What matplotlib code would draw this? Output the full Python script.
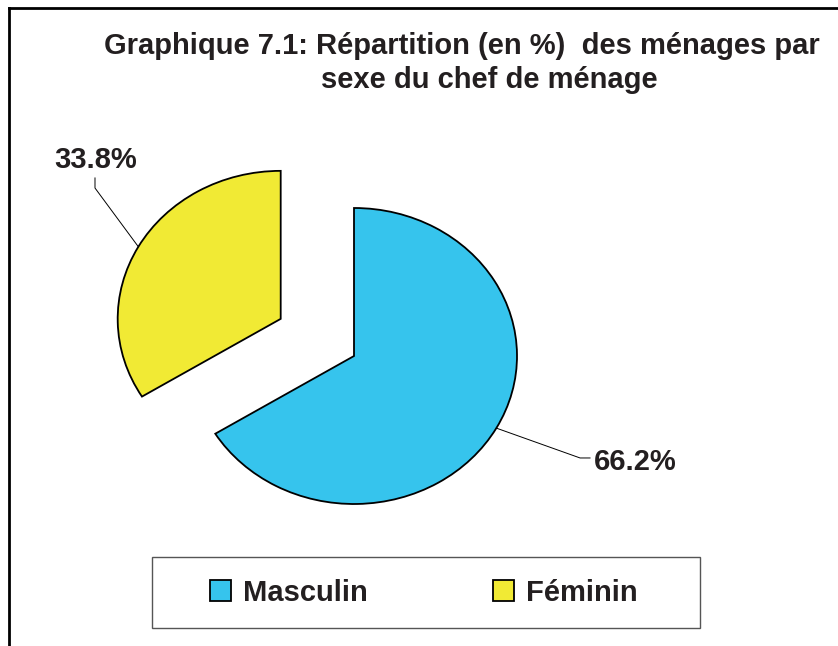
import matplotlib
matplotlib.use("Agg")
import matplotlib.pyplot as plt
from matplotlib.lines import Line2D
from matplotlib.patches import Rectangle
import numpy as np

# data
categories = ["Masculin", "Féminin"]
values = [66.2, 33.8]
labels = ["66.2%", "33.8%"]
colors = ["#36C4ED", "#F1EA34"]
title_lines = ["Graphique 7.1: Répartition (en %)  des ménages par",
               "sexe du chef de ménage"]

plt.rcParams['font.family'] = ['Liberation Sans', 'DejaVu Sans']
txt_color = "#231F20"
fs = 21

W, H = 838, 646
fig = plt.figure(figsize=(W / 100, H / 100), dpi=100)
fig.patch.set_facecolor("white")

# pie centre at (354, 356) px, radii 163 x 148 px
cx, cy, rx, ry = 354, 356, 163, 148
ax = fig.add_axes([0, 0, 1, 1])
wedges, _ = ax.pie(values, colors=colors, startangle=90, counterclock=False,
                   explode=[0, 0.515],
                   wedgeprops=dict(edgecolor="black", linewidth=1.3))
ax.set_aspect("auto")
ax.set_xlim(-cx / rx, (W - cx) / rx)
ax.set_ylim(-(H - cy) / ry, cy / ry)
ax.axis("off")

# leader lines + labels (elbow, end, text pos in data units)
leaders = [
    dict(elbow=(1.387, -0.689), end=(1.448, -0.689), text=(1.470, -0.716), ha="left"),
    dict(elbow=(-1.589, 1.135), end=(-1.589, 1.203), text=(-1.583, 1.327), ha="center"),
]
for w, lab, ld in zip(wedges, labels, leaders):
    th = np.deg2rad((w.theta1 + w.theta2) / 2)
    px = w.center[0] + w.r * np.cos(th)
    py = w.center[1] + w.r * np.sin(th)
    ax.plot([px, ld["elbow"][0], ld["end"][0]], [py, ld["elbow"][1], ld["end"][1]],
            color="black", lw=0.7)
    ax.text(ld["text"][0], ld["text"][1], lab, ha=ld["ha"], va="center",
            fontsize=fs, fontweight="bold", color=txt_color)

# title
fig.text(462 / W, 1 - 54 / H, title_lines[0], ha="center", va="baseline",
         fontsize=fs, fontweight="bold", color=txt_color)
fig.text(489 / W, 1 - 88 / H, title_lines[1], ha="center", va="baseline",
         fontsize=fs, fontweight="bold", color=txt_color)

# legend box
fig.patches.append(Rectangle((152 / W, 1 - 628 / H), 548 / W, 71 / H,
                             transform=fig.transFigure, fill=False,
                             edgecolor="#555555", linewidth=1.0))
leg = fig.legend(wedges, categories, loc="center",
                 bbox_to_anchor=(424 / W, 1 - 593 / H), ncol=2, frameon=False,
                 handlelength=0.72, handleheight=0.72, handletextpad=0.41,
                 columnspacing=4.3, prop=dict(size=fs, weight="bold"))
for t in leg.get_texts():
    t.set_color(txt_color)

# outer frame
fig.add_artist(Line2D([9 / W, 1], [1 - 8 / H, 1 - 8 / H], transform=fig.transFigure,
                      color="black", lw=2))
fig.add_artist(Line2D([9 / W, 9 / W], [0, 1 - 8 / H], transform=fig.transFigure,
                      color="black", lw=2))

fig.savefig("out.png", dpi=100)
